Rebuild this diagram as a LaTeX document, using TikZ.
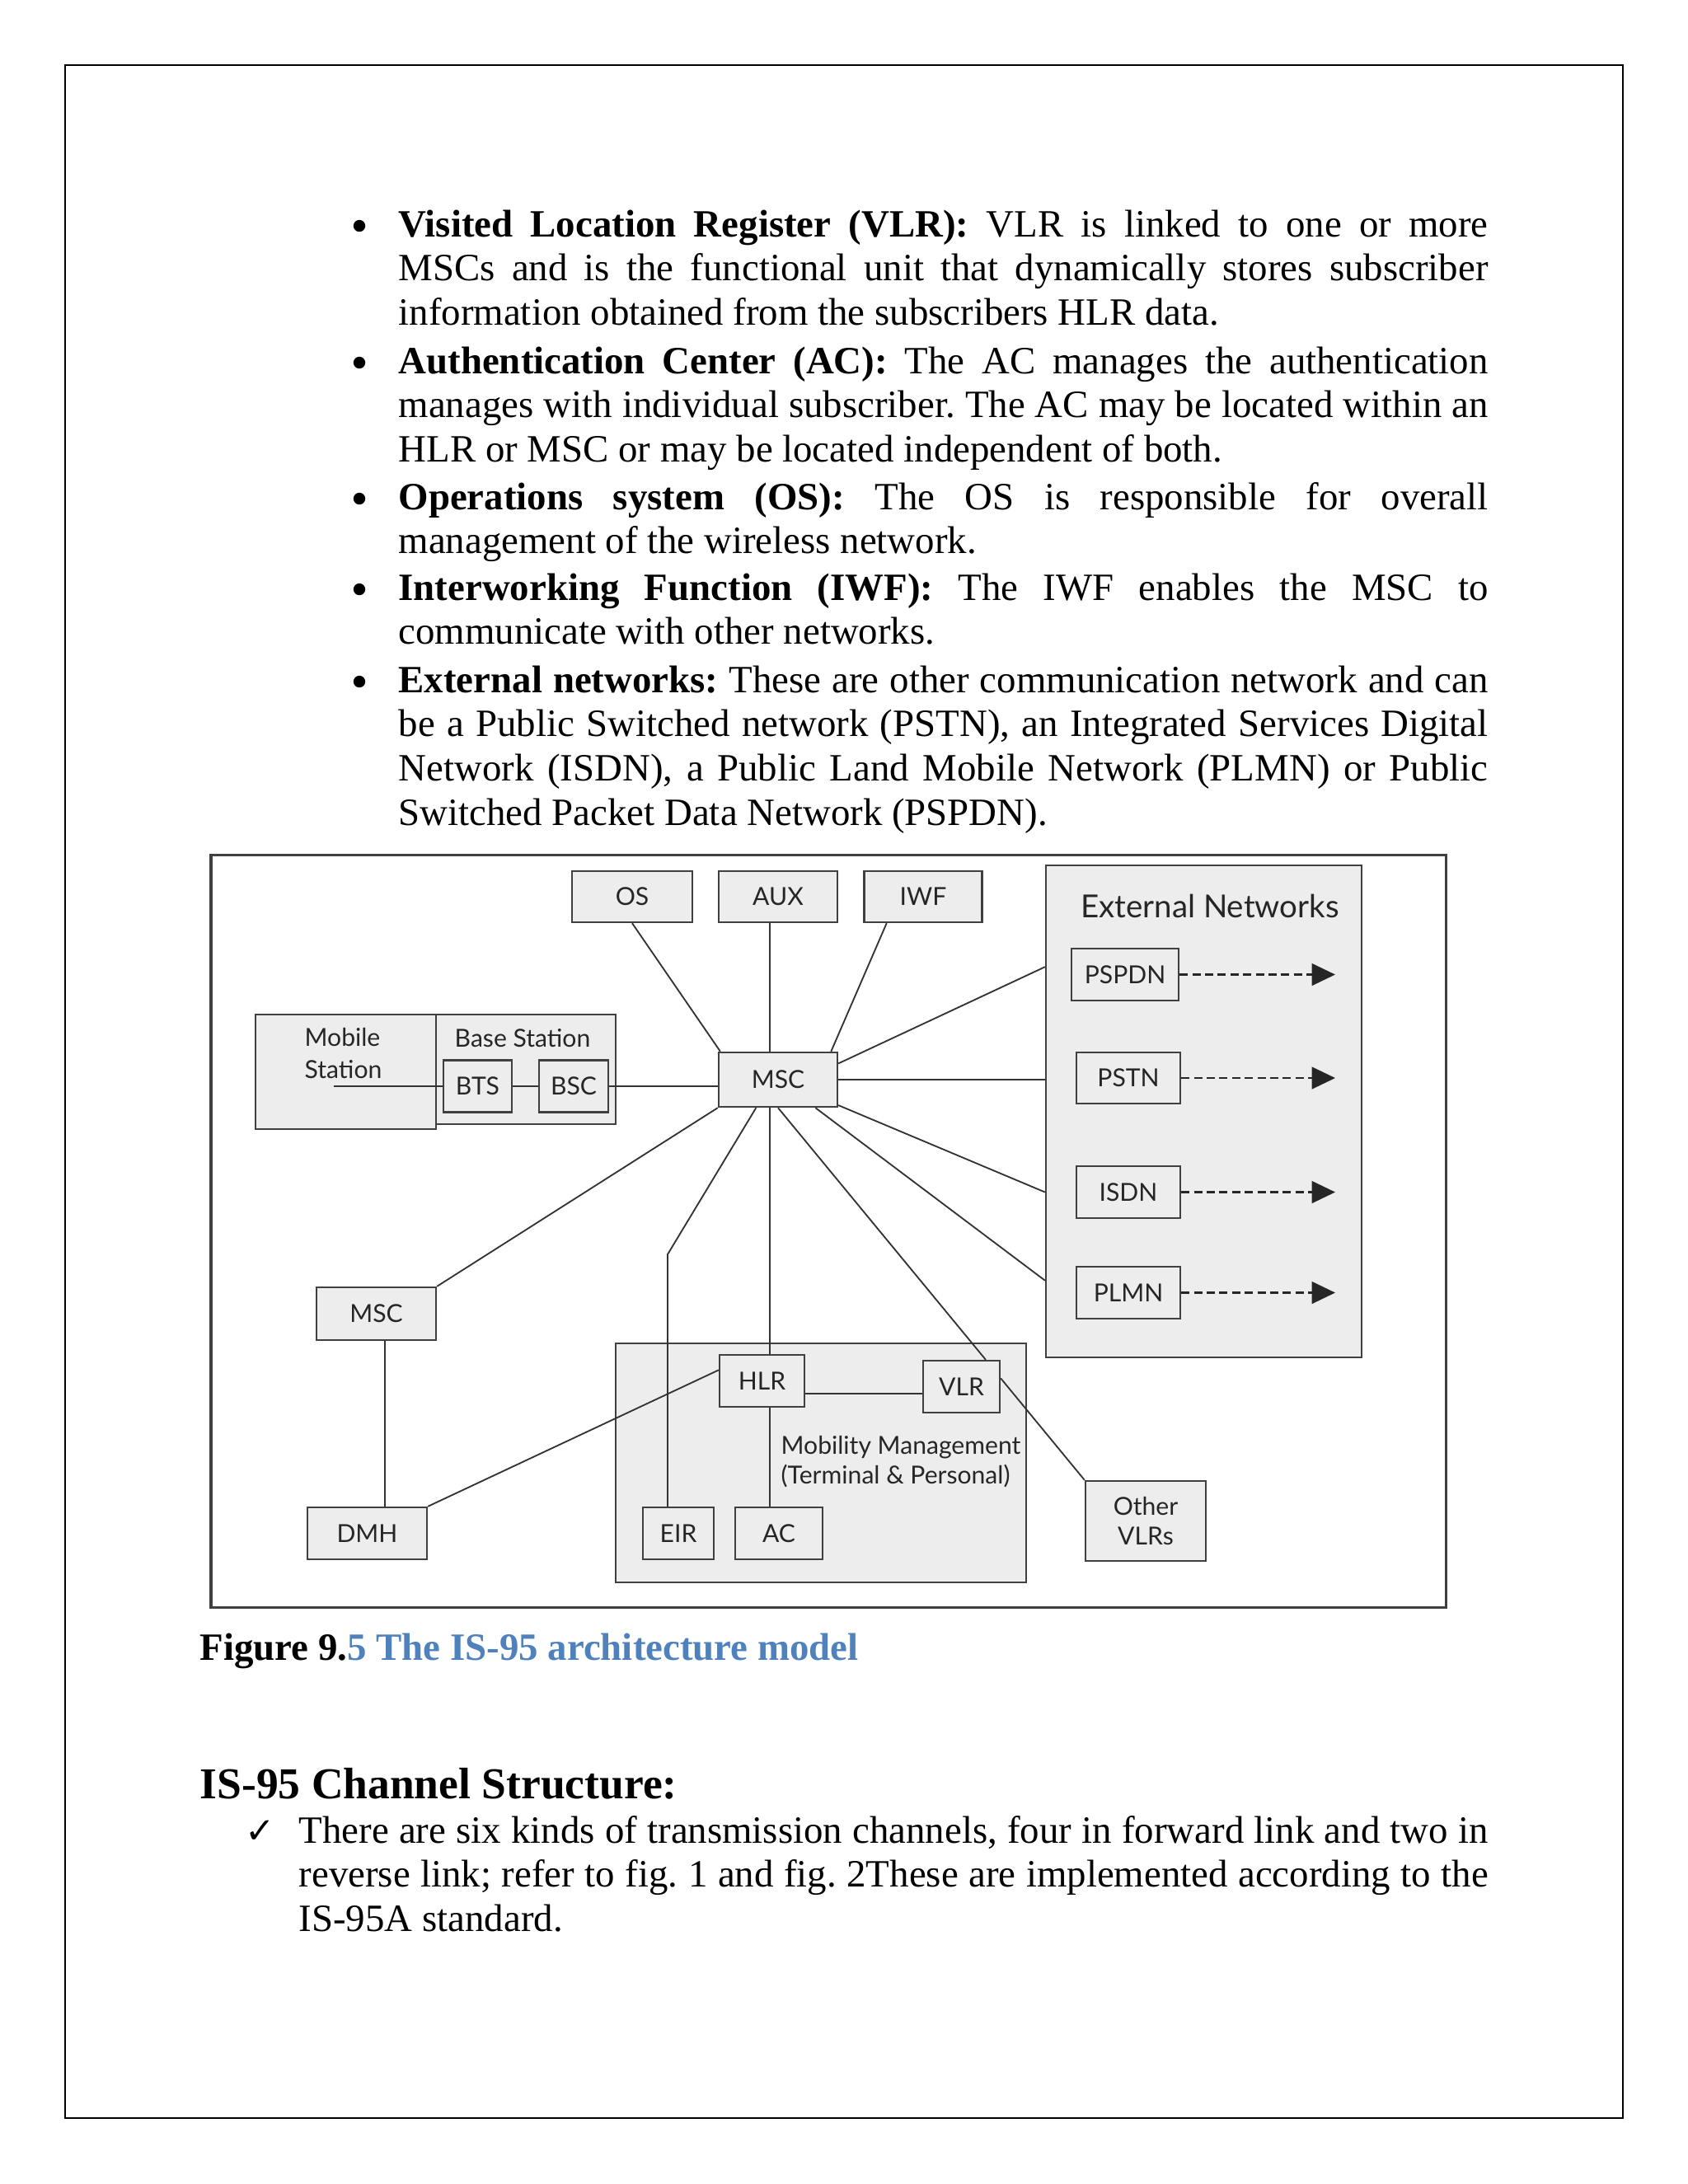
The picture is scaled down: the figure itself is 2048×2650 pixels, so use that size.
\documentclass[tikz,border=0pt]{standalone}
\usepackage{fontspec}
\setmainfont{Liberation Serif}
\newfontfamily\figfont{Lato}
\newfontfamily\symfont{DejaVu Sans}
\usetikzlibrary{arrows.meta}
\definecolor{capblue}{HTML}{4F81BD}
\definecolor{boxfill}{gray}{0.93}
\definecolor{boxline}{gray}{0.25}
\newcommand{\pxunit}{0.29883pt}
\tolerance=10000
\hyphenpenalty=10000
\frenchspacing

\begin{document}
\begin{tikzpicture}[x=\pxunit, y=-\pxunit,
    unitbox/.style={draw=boxline, fill=boxfill, line width=0.7pt, inner sep=0pt,
        text=black!85, font=\figfont\fontsize{9}{11}\selectfont},
    areabox/.style={draw=boxline, fill=boxfill, line width=0.7pt, inner sep=0pt},
    boxtext/.style={inner sep=0pt, text=black!85, font=\figfont\fontsize{9}{11}\selectfont},
    link/.style={draw=black!80, line width=0.55pt},
    outlink/.style={draw=black!85, line width=0.7pt, dash pattern=on 3pt off 1.6pt,
        -{Triangle[length=8.5pt,width=8pt]}},
    para/.style={anchor=base west, inner sep=0pt, align=justify,
        font=\fontsize{14}{16.1}\selectfont},
    dot/.style={circle, fill=black, inner sep=0pt, minimum size=4.3pt}]

    % Page
    \useasboundingbox (0,0) rectangle (2048,2650);
    \fill[white] (0,0) rectangle (2048,2650);
    \draw[line width=0.6pt] (79,79) rectangle (1969,2570);

    % Bullet list
    \node[dot] (dot1) at (436,274) {};
    \node[para, text width=395.05pt] (item1) at (483,287)
        {\textbf{Visited Location Register (VLR):} VLR is linked to one or more\linebreak
         MSCs and is the functional unit that dynamically stores subscriber\linebreak
         information obtained from the subscribers HLR data.};
    \node[dot] (dot2) at (436,440) {};
    \node[para, text width=395.05pt] (item2) at (483,453)
        {\textbf{Authentication Center (AC):} The AC manages the authentication\linebreak
         manages with individual subscriber. The AC may be located within an\linebreak
         HLR or MSC or may be located independent of both.};
    \node[dot] (dot3) at (436,605) {};
    \node[para, text width=395.05pt] (item3) at (483,618)
        {\textbf{Operations system (OS):} The OS is responsible for overall\linebreak
         management of the wireless network.};
    \node[dot] (dot4) at (436,715) {};
    \node[para, text width=395.05pt] (item4) at (483,728)
        {\textbf{Interworking Function (IWF):} The IWF enables the MSC to\linebreak
         communicate with other networks.};
    \node[dot] (dot5) at (436,827) {};
    \node[para, text width=395.05pt] (item5) at (483,840)
        {\textbf{External networks:} These are other communication network and can\linebreak
         be a Public Switched network (PSTN), an Integrated Services Digital\linebreak
         Network (ISDN), a Public Land Mobile Network (PLMN) or Public\linebreak
         Switched Packet Data Network (PSPDN).};

    % Figure frame
    \draw[draw=boxline, line width=0.9pt] (256,1037) rectangle (1754,1950);

    % Containers
    \node[areabox, minimum width=383*\pxunit, minimum height=597*\pxunit] (ext) at (1460.5,1348.5) {};
    \node[boxtext, font=\figfont\fontsize{11.5}{13}\selectfont] (extlabel) at (1468,1099) {External Networks};
    \node[areabox, minimum width=498*\pxunit, minimum height=290*\pxunit] (mobility) at (996,1775) {};
    \node[boxtext, anchor=north west, align=left, font=\figfont\fontsize{9}{10.5}\selectfont] (mobilitylabel) at (947,1742)
        {Mobility Management\\(Terminal \& Personal)};
    \node[areabox, minimum width=219*\pxunit, minimum height=139*\pxunit] (mobile) at (419.5,1300.5) {};
    \node[boxtext, anchor=north west, align=left, font=\figfont\fontsize{9}{11.4}\selectfont] (mobilelabel) at (369,1247)
        {Mobile\\Station};
    \node[areabox, minimum width=218*\pxunit, minimum height=133*\pxunit] (base) at (638,1297.5) {};
    \node[boxtext] (baselabel) at (634,1260) {Base Station};

    % Units
    \node[unitbox, minimum width=146*\pxunit, minimum height=62*\pxunit] (os) at (767,1088) {OS};
    \node[unitbox, minimum width=144*\pxunit, minimum height=62*\pxunit] (aux) at (944,1088) {AUX};
    \node[unitbox, minimum width=143*\pxunit, minimum height=62*\pxunit] (iwf) at (1120,1088) {IWF};
    \node[unitbox, minimum width=144*\pxunit, minimum height=66*\pxunit] (msc) at (944,1310) {MSC};
    \node[unitbox, minimum width=83*\pxunit, minimum height=63*\pxunit] (bts) at (579.5,1318) {BTS};
    \node[unitbox, minimum width=84*\pxunit, minimum height=63*\pxunit] (bsc) at (696,1318) {BSC};
    \node[unitbox, minimum width=130*\pxunit, minimum height=63*\pxunit] (pspdn) at (1365,1182.5) {PSPDN};
    \node[unitbox, minimum width=126*\pxunit, minimum height=62*\pxunit] (pstn) at (1369,1308) {PSTN};
    \node[unitbox, minimum width=126*\pxunit, minimum height=63*\pxunit] (isdn) at (1369,1446.5) {ISDN};
    \node[unitbox, minimum width=126*\pxunit, minimum height=63*\pxunit] (plmn) at (1369,1568.5) {PLMN};
    \node[unitbox, minimum width=145*\pxunit, minimum height=64*\pxunit] (msc2) at (456.5,1594) {MSC};
    \node[unitbox, minimum width=145*\pxunit, minimum height=63*\pxunit] (dmh) at (445.5,1860.5) {DMH};
    \node[unitbox, minimum width=103*\pxunit, minimum height=63*\pxunit] (hlr) at (924.5,1675.5) {HLR};
    \node[unitbox, minimum width=93*\pxunit, minimum height=63*\pxunit] (vlr) at (1166.5,1682.5) {VLR};
    \node[unitbox, minimum width=86*\pxunit, minimum height=63*\pxunit] (eir) at (823,1860.5) {EIR};
    \node[unitbox, minimum width=106*\pxunit, minimum height=63*\pxunit] (ac) at (945,1860.5) {AC};
    \node[unitbox, minimum width=146*\pxunit, minimum height=97*\pxunit, align=center,
        font=\figfont\fontsize{9}{10.5}\selectfont] (othervlr) at (1390,1845.5) {Other\\VLRs};

    % Coordinates
    \coordinate (spine) at (934,1310);
    \coordinate (antenna) at (405,1318);
    \coordinate (eirbend) at (810,1522);
    \coordinate (dmhlink) at (467,1700);
    \coordinate (tipline) at (1620,1300);

    % Drawing
    \draw[link] (antenna) -- (bts.west);
    \draw[link] (bts.east) -- (bsc.west);
    \draw[link] (bsc.east) -- (bsc.east -| msc.west);
    \draw[link] (os.south) -- (msc.154);
    \draw[link] (aux.south -| spine) -- (msc.north -| spine);
    \draw[link] (iwf.216) -- (msc.28);
    \draw[link] (msc.15) -- (ext.west |- pspdn.172);
    \draw[link] (msc.east) -- (msc.east -| ext.west);
    \draw[link] (msc.337) -- (ext.west |- isdn);
    \draw[link] (msc.323) -- (ext.west |- plmn.167);
    \draw[link] (msc.south) -- (vlr.48);
    \draw[link] (msc.south -| spine) -- (hlr.north -| spine);
    \draw[link] (msc.232) -- (eirbend) -- (eir.north -| eirbend);
    \draw[link] (msc.south west) -- (msc2.north east);
    \draw[link] (msc2.south -| dmhlink) -- (dmh.north -| dmhlink);
    \draw[link] (dmh.north east) -- (hlr.166);
    \draw[link] (vlr.190) -- (vlr.190 -| hlr.east);
    \draw[link] (hlr.south -| spine) -- (ac.north -| spine);
    \draw[link] (vlr.12) -- (othervlr.north west);
    \foreach \net in {pspdn,pstn,isdn,plmn}
        \draw[outlink] (\net.east) -- (\net.east -| tipline);

    % Caption and section
    \node[anchor=base west, inner sep=0pt, font=\fontsize{14}{16}\selectfont\bfseries] (caption) at (242,2014)
        {Figure 9.\textcolor{capblue}{5 The IS-95 architecture model}};
    \node[anchor=base west, inner sep=0pt, font=\fontsize{16}{18}\selectfont\bfseries] (heading) at (242,2182)
        {IS-95 Channel Structure:};
    \node[anchor=base, inner sep=0pt, font=\symfont\fontsize{13}{14}\selectfont] (tick) at (316,2236) {✓};
    \node[para, text width=431.2pt] (item6) at (362,2236)
        {There are six kinds of transmission channels, four in forward link and two in\linebreak
         reverse link; refer to fig. 1 and fig. 2These are implemented according to the\linebreak
         IS-95A standard.};
\end{tikzpicture}
\end{document}
